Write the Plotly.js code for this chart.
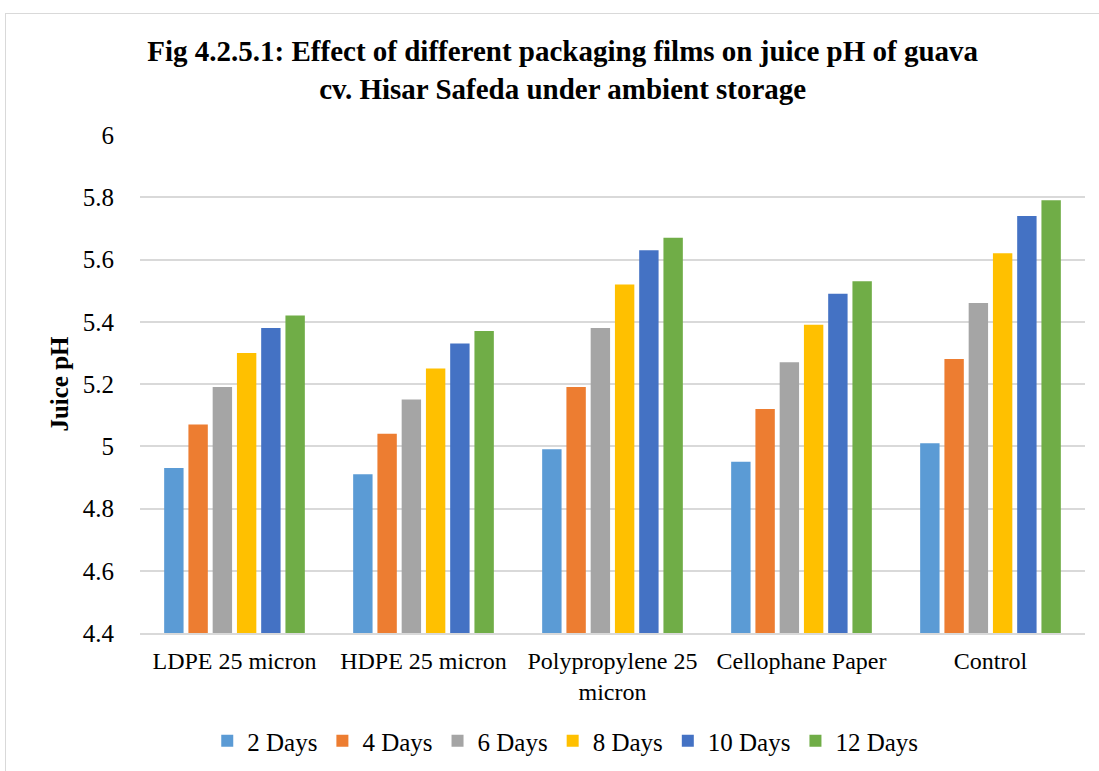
<!DOCTYPE html>
<html>
<head>
<meta charset="utf-8">
<script src="https://cdn.plot.ly/plotly-3.0.1.min.js"></script>
<style>
  html, body { margin: 0; padding: 0; background: #fff; }
  #wrap { position: relative; width: 1099px; height: 771px; overflow: hidden; }
  #chart { position: absolute; left: 0; top: 0; width: 1099px; height: 771px; }
  #frame { position: absolute; left: 5px; top: 13px; width: 1200px; height: 900px;
           border: 1.5px solid #d9d9d9; pointer-events: none; }
</style>
</head>
<body>
<div id="wrap">
  <div id="chart"></div>
  <div id="frame"></div>
</div>
<script>
// Packaging treatments on the x axis
const categories = ["LDPE 25 micron", "HDPE 25 micron", "Polypropylene 25<br>micron", "Cellophane Paper", "Control"];

// Storage intervals (one series each)
const seriesNames = ["2 Days", "4 Days", "6 Days", "8 Days", "10 Days", "12 Days"];
const seriesColors = ["#5B9BD5", "#ED7D31", "#A5A5A5", "#FFC000", "#4472C4", "#70AD47"];

// Juice pH per treatment, one array per storage interval
const days2  = [4.93, 4.91, 4.99, 4.95, 5.01];
const days4  = [5.07, 5.04, 5.19, 5.12, 5.28];
const days6  = [5.19, 5.15, 5.38, 5.27, 5.46];
const days8  = [5.30, 5.25, 5.52, 5.39, 5.62];
const days10 = [5.38, 5.33, 5.63, 5.49, 5.74];
const days12 = [5.42, 5.37, 5.67, 5.53, 5.79];

const seriesValues = [days2, days4, days6, days8, days10, days12];

const yTicks = [4.4, 4.6, 4.8, 5, 5.2, 5.4, 5.6, 5.8, 6];

const serif = '"Liberation Serif", serif';

const traces = seriesNames.map((name, i) => ({
  type: "bar",
  name: name,
  x: categories,
  y: seriesValues[i],
  base: 0,
  marker: { color: seriesColors[i], line: { width: 0 } },
  hoverinfo: "x+y+name"
}));

const layout = {
  width: 1099,
  height: 771,
  paper_bgcolor: "#ffffff",
  plot_bgcolor: "#ffffff",
  margin: { l: 140, r: 14, t: 135, b: 138 },
  barmode: "group",
  bargap: 0.23,
  bargroupgap: 0.2,
  title: {
    text: "<b>Fig 4.2.5.1: Effect of different packaging films on juice pH of guava<br>cv. Hisar Safeda under ambient storage</b>",
    font: { family: serif, size: 29, color: "#000000" },
    x: 0.512,
    xanchor: "center",
    yref: "container",
    y: 0.921,
    yanchor: "middle"
  },
  xaxis: {
    type: "category",
    automargin: false,
    tickfont: { family: serif, size: 24, color: "#000000" },
    showgrid: false,
    showline: true,
    linecolor: "#d9d9d9",
    linewidth: 1.5,
    ticks: "",
    ticklen: 0,
    ticklabelstandoff: 5
  },
  yaxis: {
    range: [4.4, 6],
    automargin: false,
    tickvals: yTicks,
    ticktext: yTicks.map(v => String(v)),
    tickfont: { family: serif, size: 25, color: "#000000" },
    showgrid: true,
    gridcolor: "#d9d9d9",
    gridwidth: 1.5,
    zeroline: false,
    showline: false,
    ticks: "",
    ticklabelstandoff: 25,
    title: {
      text: "<b>Juice pH</b>",
      font: { family: serif, size: 25, color: "#000000" },
      standoff: 7
    }
  },
  legend: {
    orientation: "h",
    x: 0.45,
    xanchor: "center",
    yref: "container",
    y: 0.009,
    yanchor: "bottom",
    font: { family: serif, size: 25, color: "#000000" },
    itemwidth: 30,
    traceorder: "normal"
  },
  showlegend: true
};

Plotly.newPlot("chart", traces, layout, { displayModeBar: false });
</script>
</body>
</html>
